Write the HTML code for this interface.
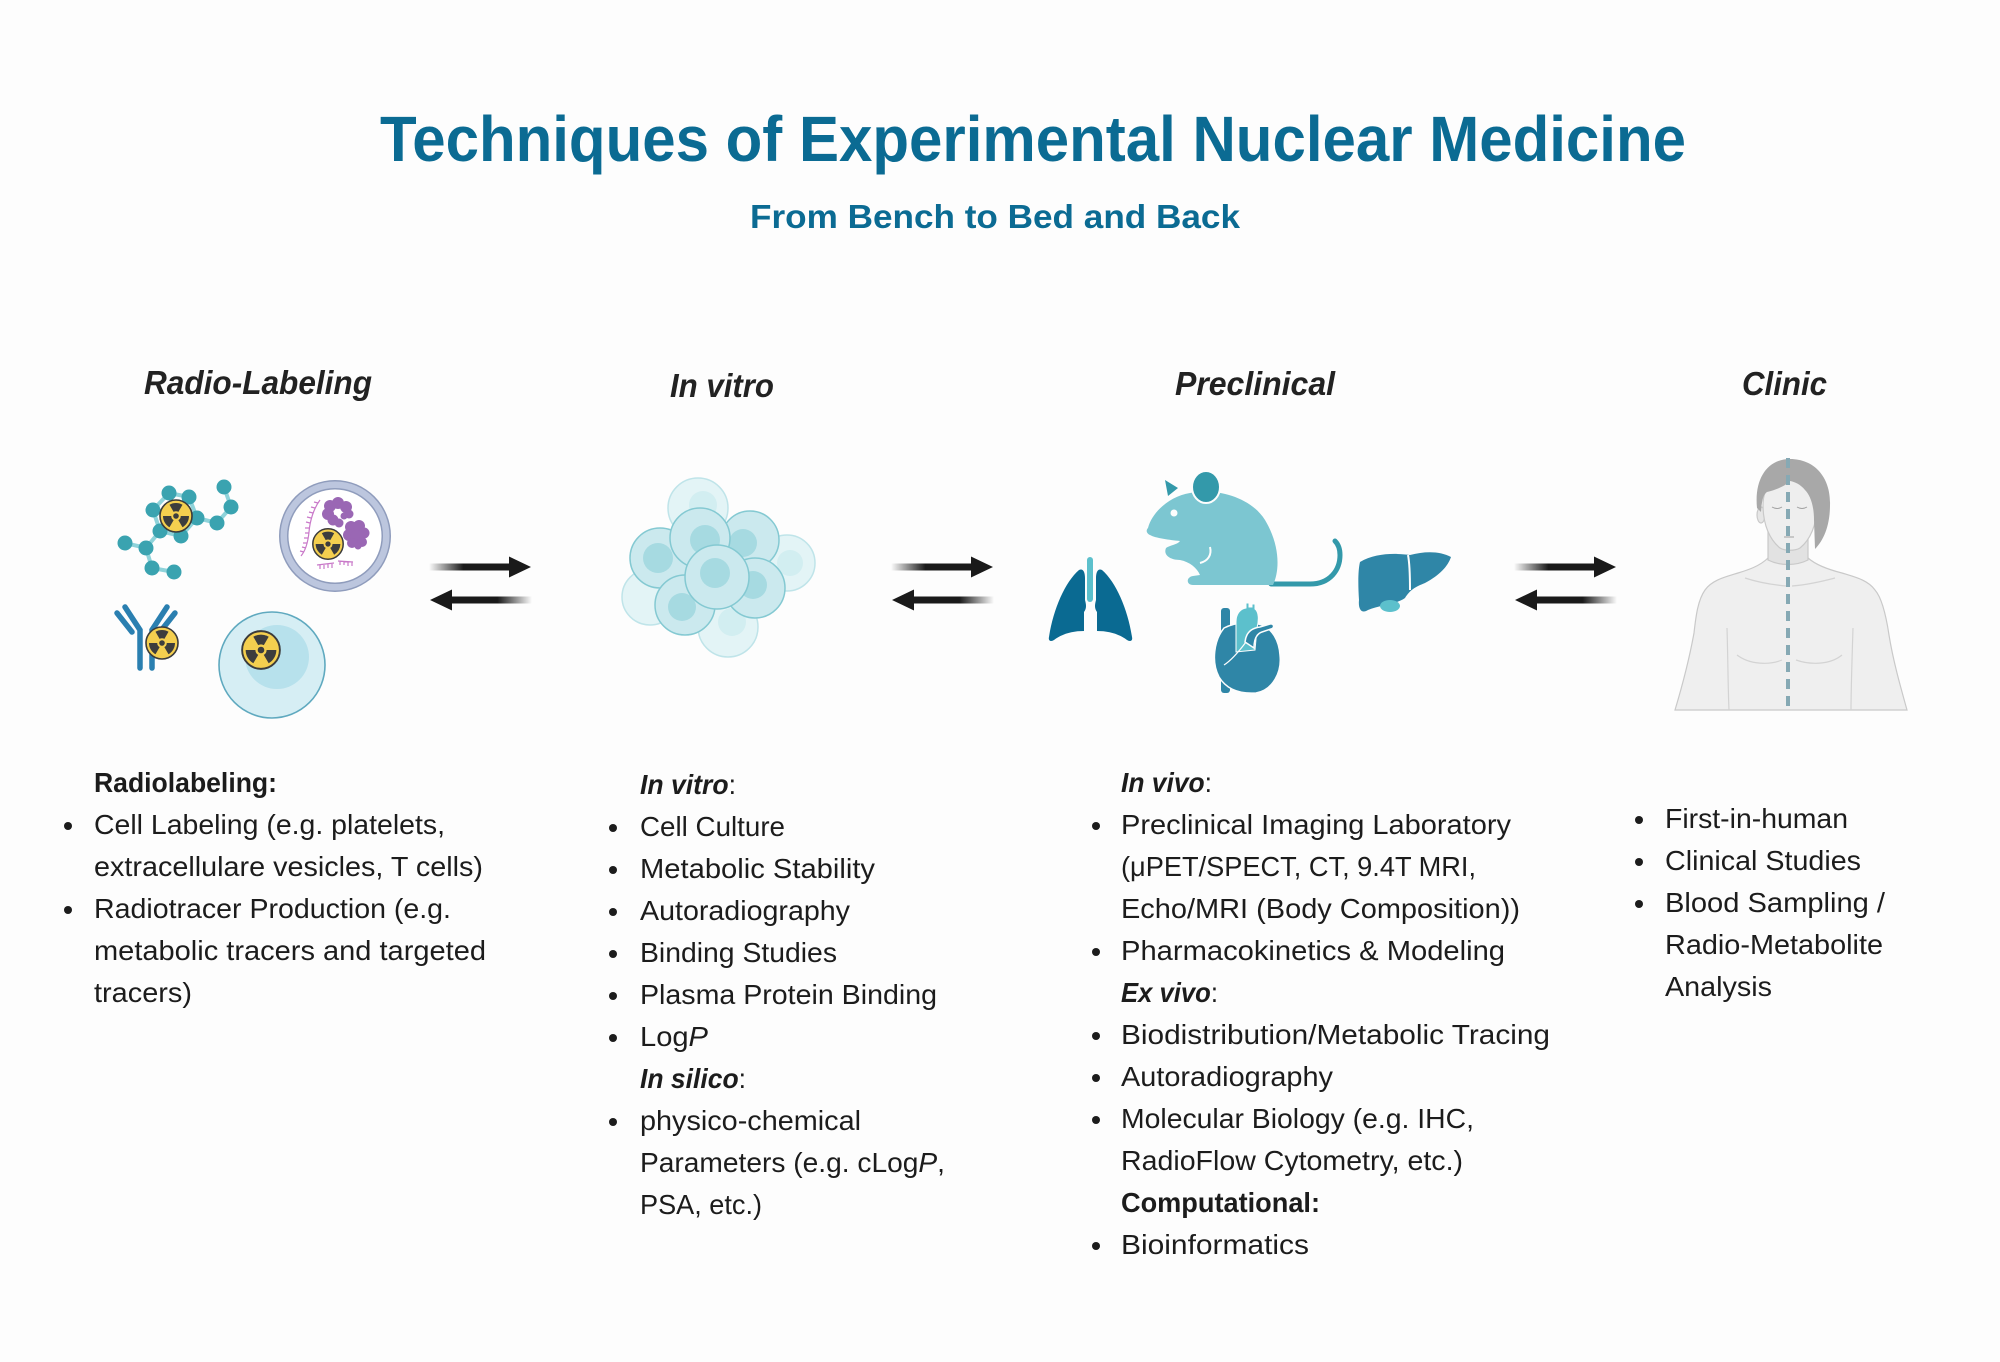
<!DOCTYPE html>
<html><head><meta charset="utf-8"><style>
html,body{margin:0;padding:0;background:#fdfdfd;}
svg{display:block;}
text{font-family:"Liberation Sans",Arial,sans-serif;}
</style></head><body>
<svg width="2000" height="1362" viewBox="0 0 2000 1362" xmlns="http://www.w3.org/2000/svg">
<defs>
<linearGradient id="gR" x1="0" x2="1" y1="0" y2="0"><stop offset="0" stop-color="#1a1a1a" stop-opacity="0"/><stop offset="0.42" stop-color="#1a1a1a" stop-opacity="1"/><stop offset="1" stop-color="#1a1a1a"/></linearGradient>
<linearGradient id="gL" x1="0" x2="1" y1="0" y2="0"><stop offset="0" stop-color="#1a1a1a"/><stop offset="0.58" stop-color="#1a1a1a" stop-opacity="1"/><stop offset="1" stop-color="#1a1a1a" stop-opacity="0"/></linearGradient>
<g id="rad">
<circle r="16" fill="#f4cf4f" stroke="#3b3b3b" stroke-width="1.6"/>
<g fill="#3d3d3d">
<path d="M-6.5,-11.26 A13,13 0 0 1 6.5,-11.26 L2.4,-4.1 A4.75,4.75 0 0 0 -2.4,-4.1 Z"/>
<path d="M-6.5,-11.26 A13,13 0 0 1 6.5,-11.26 L2.4,-4.1 A4.75,4.75 0 0 0 -2.4,-4.1 Z" transform="rotate(120)"/>
<path d="M-6.5,-11.26 A13,13 0 0 1 6.5,-11.26 L2.4,-4.1 A4.75,4.75 0 0 0 -2.4,-4.1 Z" transform="rotate(240)"/>
<circle r="2.8"/>
</g>
</g>
<g id="arrows">
<rect x="429" y="563.5" width="82" height="7" fill="url(#gR)"/>
<polygon points="509,556.5 531,567 509,577.5" fill="#1a1a1a"/>
<polygon points="430,600 452,589.5 452,610.5" fill="#1a1a1a"/>
<rect x="450" y="596.5" width="82" height="7" fill="url(#gL)"/>
</g>
</defs>

<rect width="2000" height="1362" fill="#fdfdfd"/>

<!-- Titles -->
<text x="380" y="161" font-size="64" font-weight="bold" fill="#0b6b93" textLength="1306" lengthAdjust="spacingAndGlyphs">Techniques of Experimental Nuclear Medicine</text>
<text x="750" y="228" font-size="33" font-weight="bold" fill="#0b6b93" textLength="490" lengthAdjust="spacingAndGlyphs">From Bench to Bed and Back</text>

<!-- Section headers -->
<g font-size="33" font-weight="bold" font-style="italic" fill="#222">
<text x="144" y="394" textLength="228" lengthAdjust="spacingAndGlyphs">Radio-Labeling</text>
<text x="670" y="397" textLength="104" lengthAdjust="spacingAndGlyphs">In vitro</text>
<text x="1175" y="395" textLength="160" lengthAdjust="spacingAndGlyphs">Preclinical</text>
<text x="1742" y="395" textLength="85" lengthAdjust="spacingAndGlyphs">Clinic</text>
</g>

<!-- Radio-labeling icons -->
<g>
<g stroke="#8fd3da" stroke-width="4" fill="none">
<path d="M169,493 L189,497 L197,518 L181,536 L160,531 L153,510 Z"/>
<path d="M197,518 L217,523 L231,507 L224,487"/>
<path d="M160,531 L146,548 L125,543 M146,548 L152,568 L174,572"/>
</g>
<g fill="#3aa3b0">
<circle cx="169" cy="493" r="7.5"/><circle cx="189" cy="497" r="7.5"/><circle cx="153" cy="510" r="7.5"/>
<circle cx="197" cy="518" r="7.5"/><circle cx="160" cy="531" r="7.5"/><circle cx="181" cy="536" r="7.5"/>
<circle cx="224" cy="487" r="7.5"/><circle cx="231" cy="507" r="7.5"/><circle cx="217" cy="523" r="7.5"/>
<circle cx="125" cy="543" r="7.5"/><circle cx="146" cy="548" r="7.5"/><circle cx="152" cy="568" r="7.5"/><circle cx="174" cy="572" r="7.5"/>
</g>
<use href="#rad" transform="translate(176,516)"/>

<!-- vesicle -->
<circle cx="335" cy="536" r="56" fill="#8f9cbc"/>
<circle cx="335" cy="536" r="54.5" fill="#bcc6de"/>
<circle cx="335" cy="536" r="48" fill="#8f9cbc"/>
<circle cx="335" cy="536" r="46.5" fill="#ffffff"/>
<g fill="#9a67b4">
<circle cx="330" cy="506" r="6"/><circle cx="338" cy="503" r="6"/><circle cx="346" cy="507" r="6"/><circle cx="349" cy="514" r="4.5"/>
<circle cx="328" cy="514" r="6"/><circle cx="333" cy="520" r="5.5"/><circle cx="339" cy="523" r="4.5"/><circle cx="344" cy="516" r="3.5"/>
<circle cx="351" cy="527" r="6"/><circle cx="359" cy="526" r="6"/><circle cx="364" cy="533" r="5.5"/><circle cx="349" cy="535" r="6"/>
<circle cx="357" cy="537" r="7"/><circle cx="352" cy="543" r="5"/><circle cx="362" cy="542" r="5"/><circle cx="358" cy="546" r="3.5"/>
</g>
<g stroke="#c979c9" stroke-width="1.2" fill="none">
<path d="M320,500 C314,508 310,520 309,532 C308,542 306,550 301,556"/>
<path d="M318,503 l-4,-1 M315,508 l-4,-1 M313,513 l-4,-1 M311,518 l-4,-1 M310,523 l-4,-1 M309,528 l-4,0 M309,533 l-4,0 M308,538 l-4,0 M307,543 l-4,0 M306,548 l-4,-1 M304,552 l-4,-1"/>
<path d="M317,565 L334,563 M320,565 l0,4 M324,565 l0,4 M328,564 l0,4 M332,564 l0,4"/>
<path d="M338,561 L353,562 M340,561 l0,4 M344,561 l0,4 M348,562 l0,4 M352,562 l0,4"/>
</g>
<use href="#rad" transform="translate(328,544) scale(0.95)"/>

<!-- antibody -->
<g stroke="#2a7fb0" stroke-width="5.5" stroke-linecap="round" fill="none">
<path d="M140,668 L140,630 L125,607"/>
<path d="M152,668 L152,630 L167,607"/>
<path d="M117,613 L132,632"/>
<path d="M175,613 L160,632"/>
</g>
<use href="#rad" transform="translate(162,643)"/>

<!-- cell -->
<circle cx="272" cy="665" r="53" fill="#d6eef4" stroke="#5fa9bf" stroke-width="1.6"/>
<circle cx="277" cy="657" r="32" fill="#b7e1ec"/>
<use href="#rad" transform="translate(261,650) scale(1.18)"/>
</g>

<!-- arrows -->
<use href="#arrows"/>
<use href="#arrows" transform="translate(462,0)"/>
<use href="#arrows" transform="translate(1085,0)"/>

<!-- cell cluster -->
<g stroke-width="1.5">
<g fill="#e3f4f6" stroke="#bfe4e9">
<circle cx="698" cy="508" r="30"/><circle cx="787" cy="563" r="28"/><circle cx="650" cy="597" r="28"/><circle cx="728" cy="627" r="30"/>
</g>
<g fill="#d2eef1">
<circle cx="703" cy="505" r="14"/><circle cx="790" cy="563" r="13"/><circle cx="732" cy="622" r="14"/>
</g>
<g stroke="#84c9d2">
<circle cx="660" cy="558" r="30" fill="#cbe9ee"/><circle cx="658" cy="558" r="15" fill="#a6dae1" stroke="none"/>
<circle cx="750" cy="540" r="29" fill="#cbe9ee"/><circle cx="743" cy="543" r="14" fill="#a6dae1" stroke="none"/>
<circle cx="700" cy="538" r="30" fill="#cbe9ee"/><circle cx="705" cy="540" r="15" fill="#a6dae1" stroke="none"/>
<circle cx="685" cy="605" r="30" fill="#cbe9ee"/><circle cx="682" cy="607" r="14" fill="#a6dae1" stroke="none"/>
<circle cx="755" cy="588" r="30" fill="#cbe9ee"/><circle cx="753" cy="585" r="14" fill="#a6dae1" stroke="none"/>
<circle cx="717" cy="577" r="32" fill="#cbe9ee"/><circle cx="715" cy="573" r="15" fill="#a6dae1" stroke="none"/>
</g>
</g>

<!-- lungs -->
<g fill="#0a6a92">
<path id="lobe" d="M1079,570 C1065,582 1053,610 1049,637 C1048,641 1051,642 1054,640 C1062,634 1072,631 1084,631 L1084,612 C1087,608 1086,604 1085,600 L1085,578 C1085,572 1083,568 1079,570 Z"/>
<path d="M1079,570 C1065,582 1053,610 1049,637 C1048,641 1051,642 1054,640 C1062,634 1072,631 1084,631 L1084,612 C1087,608 1086,604 1085,600 L1085,578 C1085,572 1083,568 1079,570 Z" transform="translate(2181,0) scale(-1,1)"/>
</g>
<rect x="1087" y="557" width="6" height="45" rx="3" fill="#5cc0cc"/>

<!-- mouse -->
<path d="M1271,584 L1310,584 C1330,584 1340,570 1340,555 C1340,548 1338,544 1335,541" fill="none" stroke="#3399aa" stroke-width="5" stroke-linecap="round"/>
<path d="M1165,480 L1178,488 L1168,496 Z" fill="#3399aa"/>
<path d="M1148,528 C1152,512 1170,496 1190,493 C1215,488 1250,496 1265,520 C1280,545 1280,570 1273,585 L1193,585 C1186,585 1186,577 1193,576 L1200,575 C1197,568 1190,562 1180,560 C1170,560 1163,555 1166,548 C1170,545 1177,545 1180,541 C1170,540 1155,538 1150,535 C1146,533 1146,530 1148,528 Z" fill="#7cc6d1"/>
<ellipse cx="1206" cy="487" rx="14" ry="16" fill="#3399aa" stroke="#fdfdfd" stroke-width="2"/>
<circle cx="1174" cy="513" r="3.5" fill="#fdfdfd"/>
<path d="M1210,547 C1212,555 1208,561 1200,563" fill="none" stroke="#fdfdfd" stroke-width="2"/>

<!-- liver -->
<path d="M1360,562 C1375,553 1395,553 1410,555 C1425,551 1440,551 1451,557 C1448,566 1440,575 1425,583 C1415,587 1410,590 1405,598 C1395,605 1380,605 1368,610 C1362,614 1358,610 1359,600 C1358,585 1358,570 1360,562 Z" fill="#2f86a7"/>
<path d="M1408,555 C1410,565 1410,578 1410,590" fill="none" stroke="#fdfdfd" stroke-width="2"/>
<ellipse cx="1390" cy="606" rx="10" ry="6" fill="#5cc0cc"/>

<!-- heart -->
<rect x="1221" y="608" width="9" height="85" rx="3" fill="#2f86a7"/>
<path d="M1224,628 C1214,640 1211,662 1219,677 C1227,690 1241,694 1256,693 C1273,690 1282,672 1280,655 C1279,640 1272,629 1262,625 C1250,621 1236,622 1224,628 Z" fill="#2f86a7" stroke="#fdfdfd" stroke-width="1.5"/>
<path d="M1236,652 L1236,622 C1236,614 1240,609 1246,608 L1246,603 L1249,603 L1249,607 L1252,607 L1252,604 L1255,604 L1255,609 C1259,612 1259,620 1257,628 L1255,650 Z" fill="#5cc0cc" stroke="#fdfdfd" stroke-width="1"/>
<path d="M1245,642 C1246,632 1252,628 1260,627 L1270,624 C1274,623 1275,628 1271,629 L1262,632 C1256,634 1254,640 1254,648 Z" fill="#2f86a7" stroke="#fdfdfd" stroke-width="1.5"/>
<path d="M1224,665 C1232,660 1240,650 1246,642" fill="none" stroke="#fdfdfd" stroke-width="1.2"/>

<!-- human -->
<g stroke="#c9c9c9" stroke-width="1.2">
<path d="M1768,558 C1760,566 1748,570 1738,573 C1725,577 1712,580 1705,590 C1698,600 1696,615 1694,633 C1690,655 1684,680 1675,710 L1907,710 C1900,685 1893,660 1889,635 C1886,615 1882,598 1875,590 C1868,580 1855,577 1842,573 C1830,570 1816,565 1808,558 Z" fill="#efefef"/>
<path d="M1768,530 L1768,560 C1780,566 1796,566 1808,560 L1808,530 Z" fill="#e2e2e2"/>
<ellipse cx="1761" cy="515" rx="4" ry="8" fill="#e6e6e6"/>
<ellipse cx="1819" cy="515" rx="4" ry="8" fill="#e6e6e6"/>
<path d="M1763,505 C1763,485 1775,478 1790,478 C1805,478 1817,485 1817,505 C1817,525 1810,540 1800,548 C1795,551 1785,551 1780,548 C1770,540 1763,525 1763,505 Z" fill="#eeeeee"/>
</g>
<path d="M1757,508 C1754,478 1768,459 1790,459 C1815,459 1831,478 1830,505 C1830,525 1824,540 1815,549 L1814,520 C1814,505 1810,495 1805,490 C1800,484 1795,482 1790,481 C1784,487 1775,490 1767,492 C1763,495 1762,500 1761,512 Z" fill="#a8a8a8"/>
<g fill="none" stroke="#a0a0a0" stroke-width="1">
<path d="M1772,507 Q1777,510 1782,507"/><path d="M1797,507 Q1802,510 1807,507"/>
<path d="M1784,537 L1794,537"/>
</g>
<g fill="none" stroke="#d3d3d3" stroke-width="1.2">
<path d="M1727,628 C1728,660 1728,690 1729,710"/>
<path d="M1853,628 C1852,660 1851,690 1851,710"/>
<path d="M1745,578 C1760,583 1775,585 1786,586"/><path d="M1792,586 C1805,585 1820,582 1835,578"/>
<path d="M1737,655 C1750,665 1770,665 1782,660"/><path d="M1796,660 C1810,665 1830,665 1842,655"/>
</g>
<line x1="1788" y1="458" x2="1788" y2="710" stroke="#86a9b4" stroke-width="4" stroke-dasharray="10 7"/>

<!-- body text -->
<g font-size="28" fill="#1c1c1c">
<!-- column 1 -->
<text x="94" y="792" font-weight="bold" textLength="183" lengthAdjust="spacingAndGlyphs">Radiolabeling:</text>
<text x="94" y="834" textLength="351" lengthAdjust="spacingAndGlyphs">Cell Labeling (e.g. platelets,</text>
<text x="94" y="876" textLength="389" lengthAdjust="spacingAndGlyphs">extracellulare vesicles, T cells)</text>
<text x="94" y="918" textLength="357" lengthAdjust="spacingAndGlyphs">Radiotracer Production (e.g.</text>
<text x="94" y="960" textLength="392" lengthAdjust="spacingAndGlyphs">metabolic tracers and targeted</text>
<text x="94" y="1002" textLength="98" lengthAdjust="spacingAndGlyphs">tracers)</text>
<!-- column 2 -->
<text x="640" y="794" textLength="96" lengthAdjust="spacingAndGlyphs"><tspan font-weight="bold" font-style="italic">In vitro</tspan>:</text>
<text x="640" y="836" textLength="145" lengthAdjust="spacingAndGlyphs">Cell Culture</text>
<text x="640" y="878" textLength="235" lengthAdjust="spacingAndGlyphs">Metabolic Stability</text>
<text x="640" y="920" textLength="210" lengthAdjust="spacingAndGlyphs">Autoradiography</text>
<text x="640" y="962" textLength="197" lengthAdjust="spacingAndGlyphs">Binding Studies</text>
<text x="640" y="1004" textLength="297" lengthAdjust="spacingAndGlyphs">Plasma Protein Binding</text>
<text x="640" y="1046" textLength="68" lengthAdjust="spacingAndGlyphs">Log<tspan font-style="italic">P</tspan></text>
<text x="640" y="1088" textLength="106" lengthAdjust="spacingAndGlyphs"><tspan font-weight="bold" font-style="italic">In silico</tspan>:</text>
<text x="640" y="1130" textLength="221" lengthAdjust="spacingAndGlyphs">physico-chemical</text>
<text x="640" y="1172" textLength="305" lengthAdjust="spacingAndGlyphs">Parameters (e.g. cLog<tspan font-style="italic">P</tspan>,</text>
<text x="640" y="1214" textLength="122" lengthAdjust="spacingAndGlyphs">PSA, etc.)</text>
<!-- column 3 -->
<text x="1121" y="792" textLength="91" lengthAdjust="spacingAndGlyphs"><tspan font-weight="bold" font-style="italic">In vivo</tspan>:</text>
<text x="1121" y="834" textLength="390" lengthAdjust="spacingAndGlyphs">Preclinical Imaging Laboratory</text>
<text x="1121" y="876" textLength="355" lengthAdjust="spacingAndGlyphs">(μPET/SPECT, CT, 9.4T MRI,</text>
<text x="1121" y="918" textLength="399" lengthAdjust="spacingAndGlyphs">Echo/MRI (Body Composition))</text>
<text x="1121" y="960" textLength="384" lengthAdjust="spacingAndGlyphs">Pharmacokinetics &amp; Modeling</text>
<text x="1121" y="1002" textLength="97" lengthAdjust="spacingAndGlyphs"><tspan font-weight="bold" font-style="italic">Ex vivo</tspan>:</text>
<text x="1121" y="1044" textLength="429" lengthAdjust="spacingAndGlyphs">Biodistribution/Metabolic Tracing</text>
<text x="1121" y="1086" textLength="212" lengthAdjust="spacingAndGlyphs">Autoradiography</text>
<text x="1121" y="1128" textLength="353" lengthAdjust="spacingAndGlyphs">Molecular Biology (e.g. IHC,</text>
<text x="1121" y="1170" textLength="342" lengthAdjust="spacingAndGlyphs">RadioFlow Cytometry, etc.)</text>
<text x="1121" y="1212" font-weight="bold" textLength="199" lengthAdjust="spacingAndGlyphs">Computational:</text>
<text x="1121" y="1254" textLength="188" lengthAdjust="spacingAndGlyphs">Bioinformatics</text>
<!-- column 4 -->
<text x="1665" y="828" textLength="183" lengthAdjust="spacingAndGlyphs">First-in-human</text>
<text x="1665" y="870" textLength="196" lengthAdjust="spacingAndGlyphs">Clinical Studies</text>
<text x="1665" y="912" textLength="220" lengthAdjust="spacingAndGlyphs">Blood Sampling /</text>
<text x="1665" y="954" textLength="218" lengthAdjust="spacingAndGlyphs">Radio-Metabolite</text>
<text x="1665" y="996" textLength="107" lengthAdjust="spacingAndGlyphs">Analysis</text>
</g>

<!-- bullets -->
<g fill="#1c1c1c">
<circle cx="68" cy="826" r="4"/><circle cx="68" cy="910" r="4"/>
<circle cx="613" cy="828" r="4"/><circle cx="613" cy="870" r="4"/><circle cx="613" cy="912" r="4"/><circle cx="613" cy="954" r="4"/><circle cx="613" cy="996" r="4"/><circle cx="613" cy="1038" r="4"/><circle cx="613" cy="1122" r="4"/>
<circle cx="1096" cy="826" r="4"/><circle cx="1096" cy="952" r="4"/><circle cx="1096" cy="1036" r="4"/><circle cx="1096" cy="1078" r="4"/><circle cx="1096" cy="1120" r="4"/><circle cx="1096" cy="1246" r="4"/>
<circle cx="1639" cy="820" r="4"/><circle cx="1639" cy="862" r="4"/><circle cx="1639" cy="904" r="4"/>
</g>
</svg>
</body></html>
